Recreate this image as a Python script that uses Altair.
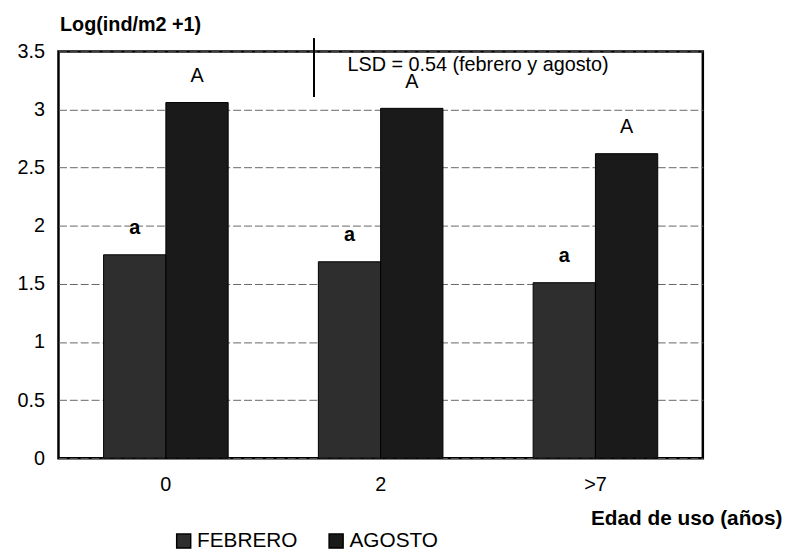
import altair as alt
import pandas as pd

categories = ["0", "2", ">7"]
series = ["FEBRERO", "AGOSTO"]
febrero = [1.75, 1.69, 1.51]
agosto = [3.06, 3.01, 2.62]
letters_feb = ["a", "a", "a"]
letters_ago = ["A", "A", "A"]
lsd_text = "LSD = 0.54 (febrero  y agosto)"

rows = []
for i, c in enumerate(categories):
    rows.append({"edad": c, "mes": "FEBRERO", "valor": febrero[i], "letra": letters_feb[i]})
    rows.append({"edad": c, "mes": "AGOSTO", "valor": agosto[i], "letra": letters_ago[i]})
df = pd.DataFrame(rows)

FONT = "Liberation Sans"

x = alt.X("edad:N", sort=categories,
          scale=alt.Scale(paddingInner=0.42, paddingOuter=0.21),
          axis=alt.Axis(title="Edad de uso (años)", labelAngle=0, labelFontSize=20,
                        labelPadding=17, ticks=False, domain=False,
                        titleFontSize=21, titleFontWeight="bold", titleAlign="right",
                        titleAnchor="end", titleX=731, titleY=67, titleBaseline="alphabetic"))
xo = alt.XOffset("mes:N", sort=series)
y = alt.Y("valor:Q",
          scale=alt.Scale(domain=[0, 3.5], nice=False),
          axis=alt.Axis(values=[0, 0.5, 1, 1.5, 2, 2.5, 3, 3.5], format="~g",
                        title="Log(ind/m2 +1)", titleAngle=0, titleAlign="left",
                        titleX=1, titleY=-21, titleBaseline="alphabetic",
                        titleFontSize=20, titleFontWeight="bold",
                        labelFontSize=20, labelPadding=14, ticks=False, domain=False,
                        grid=True, gridColor="#666666", gridDash=[8, 3], gridWidth=1))

color = alt.Color("mes:N", sort=series,
                  scale=alt.Scale(domain=series, range=["#2e2e2e", "#1a1a1a"]),
                  legend=alt.Legend(title=None, orient="none", legendX=116, legendY=484,
                                    direction="horizontal", symbolType="square",
                                    symbolSize=200, symbolStrokeColor="black",
                                    symbolStrokeWidth=1.5, labelFontSize=21,
                                    labelFont=FONT, columnPadding=28, labelOffset=3))

bars = alt.Chart(df).mark_bar(stroke="black", strokeWidth=1).encode(
    x=x, xOffset=xo, y=y, color=color)

def letter_layer(mes, weight):
    return alt.Chart(df).transform_filter(alt.datum.mes == mes).mark_text(
        fontSize=20, baseline="middle", dy=-27, font=FONT, color="black",
        fontWeight=weight).encode(
        x=alt.X("edad:N", sort=categories), xOffset=alt.XOffset("mes:N", sort=series),
        y=alt.Y("valor:Q"), text="letra:N")

letters_a = letter_layer("FEBRERO", "bold")
letters_A = letter_layer("AGOSTO", "normal")

vline = alt.Chart(df).mark_rule(color="black", strokeWidth=1.5).encode(
    x=alt.value(258), y=alt.value(-13), y2=alt.value(46))

lsd = alt.Chart(pd.DataFrame({"t": [lsd_text]})).mark_text(
    fontSize=20, align="left", baseline="middle", font=FONT, color="black").encode(
    x=alt.value(292), y=alt.value(14), text="t:N")

chart = alt.layer(bars, letters_a, letters_A, vline, lsd).properties(
    width=651, height=411,
    background="white",
    autosize=alt.AutoSizeParams(type="none"),
    padding={"left": 51, "top": 41, "right": 81, "bottom": 100},
).configure_view(stroke="black", strokeWidth=2.5).configure_axis(
    labelFont=FONT, titleFont=FONT, labelColor="black", titleColor="black"
)

chart.save("out.html", embed_options={"renderer": "svg", "actions": False})
